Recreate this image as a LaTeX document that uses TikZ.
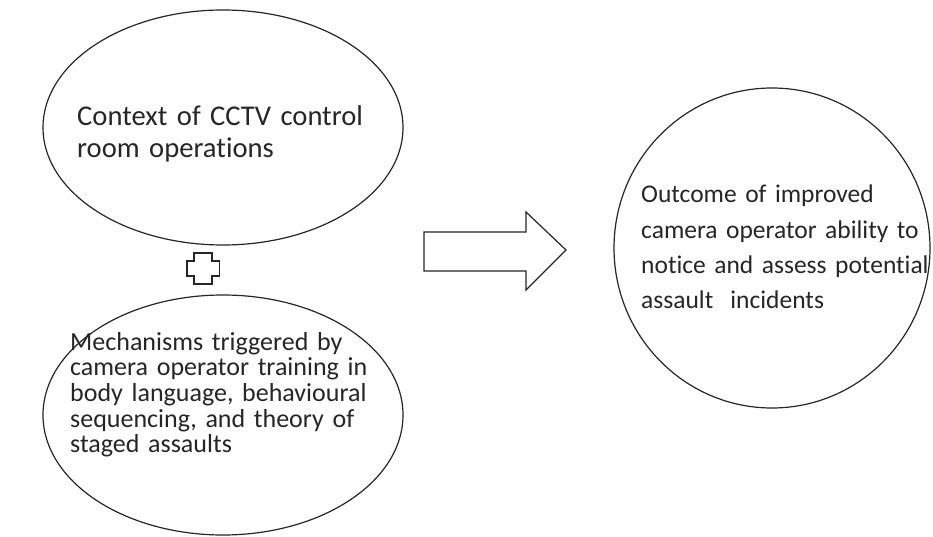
\documentclass[tikz,border=0pt]{standalone}
\usepackage{fontspec}
\newfontfamily\calib[Ligatures=NoCommon]{Carlito}
\usetikzlibrary{shapes.geometric}
\definecolor{ink}{HTML}{262626}
\begin{document}
\begin{tikzpicture}[x=1pt,y=-1pt,
  outline/.style={draw=ink,line width=1.2pt},
  bubble/.style={outline,ellipse,inner sep=0pt},
  caption/.style={text=ink,inner sep=0pt,anchor=base west,align=left,text width=330pt}]
\useasboundingbox[fill=white] (0,0) rectangle (933,537);

% context ellipse
\node[bubble,minimum width=360pt,minimum height=235pt] (context) at (223,127.5) {};
\node[caption,font={\calib\fontsize{28.6}{32}\selectfont}] (contexttext) at (77,126)
  {Context of CCTV control\\room operations};

% plus sign joining the two ellipses
\draw[draw=ink,line width=1.6pt,line join=miter]
  (194.2,252.7) -- (211.8,252.7) -- (211.8,260.7) -- (219.3,260.7) -- (219.3,276)
  -- (211.8,276) -- (211.8,284) -- (194.2,284) -- (194.2,276) -- (186.7,276)
  -- (186.7,260.7) -- (194.2,260.7) -- cycle;

% mechanisms ellipse
\node[bubble,minimum width=360pt,minimum height=240pt] (mech) at (223,415) {};
\node[caption,font={\calib\fontsize{26}{25.7}\selectfont}] (mechtext) at (70,350)
  {Mechanisms triggered by\\camera operator training in\\body language, behavioural\\sequencing, and theory of\\staged assaults};

% block arrow
\draw[outline,line join=miter]
  (424,232) -- (526,232) -- (526,212) -- (566,250) -- (526,290) -- (526,271) -- (424,271) -- cycle;

% outcome circle
\node[bubble,minimum width=316pt,minimum height=320pt] (outcome) at (772,248) {};
\node[caption,font={\calib\fontsize{25.5}{35.3}\selectfont}] (outcometext) at (641,203)
  {Outcome of improved\\camera operator ability to\\notice and assess potential\\assault~ incidents};
\end{tikzpicture}
\end{document}
